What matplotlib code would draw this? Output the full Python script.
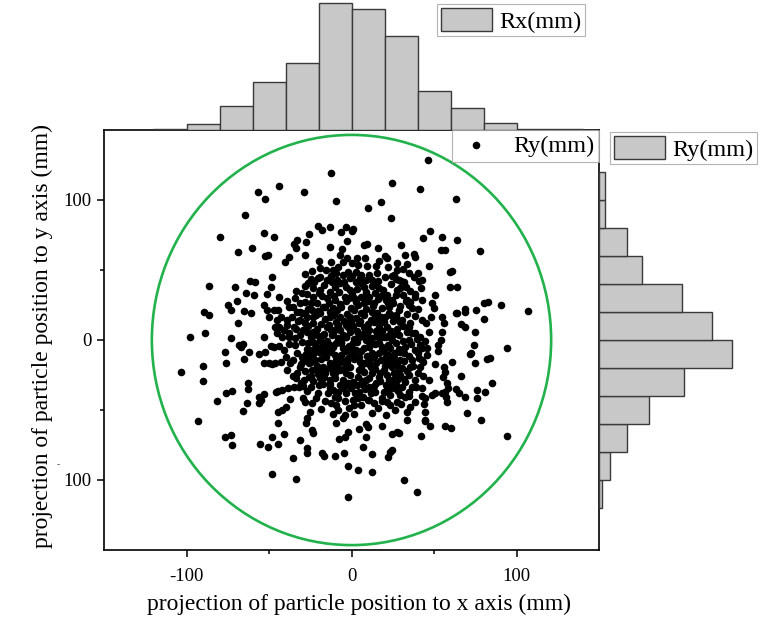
import matplotlib
matplotlib.use("Agg")
import matplotlib.pyplot as plt
from matplotlib.patches import Ellipse
import numpy as np

plt.rcParams['font.family'] = ['Liberation Serif', 'DejaVu Serif']

# particle positions (mm), grouped by region of the beam spot
upper_left = [
    (-12.5, 119), (-44.2, 110), (-56.9, 106), (-52.7, 100.7), (-28.7, 106), (-9.4, 99.3),
    (-64.8, 89), (-79.8, 73.3), (-53, 76.2), (-47, 73.8), (-20.1, 81.7), (-17.7, 78.6),
    (-13.3, 80.5), (-6.2, 77.4), (-3.2, 80.5), (1, 79.3), (-2.6, 71), (-25.9, 75.7),
    (-27.5, 70.2), (-32.8, 71.4), (-34.6, 68.6), (-33.6, 65.5), (-68.7, 62.6), (-60.1, 65.5),
    (-52.2, 60), (-50.5, 60.7), (-37.6, 59.5), (-40.2, 55.7), (-27.9, 60.5), (-13.1, 66.7),
    (-5.8, 65.2), (-7.2, 60.7), (-2.6, 58.8), (-12.5, 55.9), (-18.9, 51.2), (-48.1, 44.8),
    (-24.7, 43.6), (-86.3, 38.3), (-70.9, 38.1), (-61.3, 42.1), (-58.3, 41.2), (-64.2, 33.8),
    (-59.3, 32.4), (-69.1, 28.1), (-74.7, 25), (-73.3, 21.4), (-65.4, 20.7), (-60.9, 19),
    (-68.9, 12.4), (-89.3, 19.8), (-86.3, 17.9), (-88.8, 5), (-97.8, 1.9), (-72.9, 1.2),
    (-53, 1.9), (-51.5, 32.9), (-52.8, 25), (-51.5, 21.4), (-46.8, 21.4), (-49.9, 16.7),
    (-45.2, 14.3), (-43.7, 9.5), (-40.7, 7.1), (-37.6, 4.8), (-33.6, 35), (-31, 20.2),
    (-28, 19), (-32.4, 13.6),
]
upper_right = [
    (46.2, 128.8), (24.7, 112.4), (41.8, 107.9), (63.6, 100.7), (17.7, 98.6), (10, 94),
    (23.9, 87.1), (0.4, 78.1), (47.8, 77.6), (43.2, 72.6), (54.7, 73.8), (64, 71.2),
    (54.4, 64.3), (56.4, 64.3), (77.6, 63.6), (7.8, 67.9), (9.1, 68.6), (16.1, 65.5),
    (30, 67.6), (20.3, 60), (21.3, 58.3), (32.6, 60.7), (38, 61.4), (38.6, 59.5),
    (3.2, 58.3), (9.4, 52.9), (15.1, 52.9), (33.6, 54), (27.6, 50), (24.7, 45.9),
    (40, 47.6), (41.2, 42.4), (59.5, 48.8), (60.7, 49.5), (29.7, 42.1), (59.5, 37.6),
    (63.8, 37.6), (35.6, 35.2), (38.6, 30.9), (40.6, 21.9), (50.1, 23.1), (55.1, 16.7),
    (63.2, 19), (64.2, 19.5), (68.7, 22.1), (68.9, 19.8), (75.5, 21.2), (80, 26.2),
    (82.6, 26.9), (90.6, 24.8), (106.7, 20.7), (80, 15.2), (74.9, 5.9), (66.4, 11.4),
    (68.5, 9.5), (56.1, 11.9), (55.1, 5.9), (45.4, 11.9), (47.2, 5.5), (35.6, 12.4),
    (34.6, 25), (33.6, 28.6),
]
lower_left = [
    (-68.1, -3.6), (-65.6, -3.1), (-67, -5.2), (-76.9, -8.3), (-62, -8.3), (-55.9, -10.2),
    (-52.5, -8.8), (-48.5, -4.3), (-47, -5.2), (-65.4, -13.6), (-76.1, -16.7), (-53, -16.7),
    (-50, -16.7), (-48, -17.4), (-46.6, -16.7), (-90, -18.8), (-103.5, -22.9), (-90, -29.3),
    (-63, -31), (-62.6, -35.2), (-76.3, -37.9), (-72.7, -36.4), (-81.8, -43.3), (-63.6, -44.8),
    (-55.9, -40.5), (-53.3, -38.8), (-54.9, -42.9), (-56.3, -45.2), (-46, -37.1), (-44.4, -36.4),
    (-66, -50.5), (-92.9, -57.9), (-44.4, -51.2), (-44.4, -59.5), (-76.5, -69), (-73, -67.9),
    (-72.4, -75), (-55.5, -74), (-50.6, -76.7), (-48.2, -69), (-44.6, -74.3), (-47.9, -95.7),
]
lower_mid = [
    (-42, -35.7), (-38.6, -34.5), (-35, -33.8), (-32, -33.3), (-28.7, -28.6), (-29.1, -32.9),
    (-27.1, -36.2), (-35.6, -25.5), (-20.1, -37.6), (-37.4, -42.4), (-29.4, -41.7), (-28.4, -44.1),
    (-24.1, -45.2), (-40, -48.1), (-42, -50), (-25.1, -51.2), (-26.7, -55.9), (-27.5, -59.1),
    (-24.1, -64.3), (-23.5, -66.7), (-41, -67.1), (-31.5, -71.4), (-27.1, -77.4), (-26.7, -81),
    (-35.6, -84.5), (-18.1, -81), (-16.7, -82.9), (-10.1, -82.9), (-4.8, -80.5), (-2.2, -90),
    (3.8, -92.9), (12.7, -94), (7.2, -76.7), (12.3, -81.4), (22.1, -83.3), (23.1, -79.8),
    (24.7, -78.6), (31.6, -100), (39.6, -108.6), (-2, -112.1), (-33.6, -99.5), (-9.1, -59.5),
    (-5.2, -55.9), (-4.2, -53.6), (-7.5, -70.9), (-4.2, -69.5), (-2.2, -65.5), (4.4, -63.8),
    (8.8, -60), (9.7, -61.9), (8.8, -69), (18.7, -61.4), (24.7, -67.1), (27.6, -65.5),
    (28.7, -66.7), (42.2, -68.6), (44.6, -57.1), (33.6, -57.1), (1.8, -52.9),
]
lower_right = [
    (94.3, -5.9), (82.4, -13.8), (83.8, -12.6), (74.9, -16.2), (74.1, -3.6), (71.6, -10),
    (72.7, -9.1), (60.9, -16), (66.5, -25.5), (84.9, -30.5), (81.2, -37.1), (76.1, -35.7),
    (76.1, -41.2), (68.5, -40.5), (63.1, -35), (64.9, -37.6), (57.9, -31), (58.5, -34.5),
    (56.5, -36.9), (55.1, -38.1), (57.5, -40.5), (57.9, -44.1), (55.5, -26.2), (56.5, -22.6),
    (55.9, -19), (50.9, -17.4), (42.6, -14.3), (43.6, -15.9), (48.5, -39.3), (50.9, -37.6),
    (42.6, -34.5), (42.6, -39.8), (44.2, -45.7), (70, -52.4), (78.5, -57.1), (44.6, -57.6),
    (47.6, -61.7), (56.9, -61.7), (60.1, -62.6), (94.3, -68.8), (52.5, -3.6), (52.5, -7.9),
    (54.5, 0), (44.6, -0.5), (45.6, -5.9), (41.6, 2.4), (41.6, -3.6), (42.6, -5.9), (41.2, -13.1),
]
core_upper = [
    (-5.2, 56), (-15.5, 50), (-11.2, 50), (-9.1, 48.1), (-15.1, 42.9), (-12.1, 41.7),
    (-10.1, 38.1), (-7.2, 40.5), (-5.2, 46.4), (-2.2, 48.8), (-1.2, 44.1), (3.8, 53.6),
    (2.8, 48.8), (10.7, 46.4), (12.7, 42.9), (14.7, 39.3), (16.7, 36.9), (15.3, 47.6),
    (5.8, 40.5), (7.8, 38.1), (8.8, 34.5), (27.6, 54.8), (25.7, 46.4), (28.7, 42.9),
    (34.6, 47.6), (37.6, 45.2), (42.6, 42.9), (42.2, 36.9), (27.6, 35.7), (26.7, 32.1),
    (24.7, 28.6), (35.6, 27.4), (42.6, 28.6), (42.6, 14.3), (34.6, 9.5), (36.6, 4.8),
    (30.6, 14.3), (26.7, 16.7), (22.7, 19),
    (-23.1, 30.9), (-19.1, 35.7), (-21.1, 26.2), (-24.1, 21.4), (-27.1, 16.7), (-31.1, 14.3),
    (-29.1, 7.1), (-23.1, 11.9), (-19.1, 19), (-17.1, 23.8), (-15.1, 29.7), (-13.1, 34.5),
    (-10.2, 28.6), (-11.2, 22.6), (-13.1, 16.7), (-15.1, 9.5), (-17.1, 3.6), (-11.2, 4.8),
    (-8.2, 10.7), (-7.2, 16.7), (-6.2, 23.8), (-4.2, 31), (-1.2, 35.7), (1.8, 29.7),
    (-0.2, 22.6), (-1.2, 16.7), (-2.2, 9.5), (-3.2, 2.4), (3.8, 4.8), (4.8, 11.9),
    (5.8, 19), (7.7, 26.2), (10.7, 30.9), (13.7, 26.2), (12.7, 20.2), (11.7, 14.3),
    (10.7, 7.1), (16.7, 9.5), (17.7, 16.7), (18.7, 22.6), (20.7, 28.6), (22.7, 23.8),
    (23.7, 17.8), (22.7, 3.6), (19.7, 2.4), (-31.1, 26.2), (-33.1, 20.2), (-35.1, 9.5),
    (-39, 14.3), (-41, 7.1), (-26.1, 40.5), (-19.1, 45.2), (5.8, 46.4), (2.8, 41.7),
    (-38, 23.8), (-36, 16.7), (-43, 16.7), (-42, 2.4),
]
core_lower = [
    (-44, -4.3), (-41, -7.1), (-40, -11.9), (-43, -15.5), (-34, -3.6), (-34, 1.2),
    (-31, 3.6), (-27.1, 5.9), (-30.1, -11.9), (-29.1, -14.3), (-25.1, -10.8), (-24.1, -7.2),
    (-21.1, -4.8), (-19.1, 0), (-23.1, -1.2), (-17.2, -7.2), (-15.2, -11.9), (-13.2, -3.6),
    (-9.2, -2.4), (-5.2, -6), (-6.2, -10.8), (-9.2, -14.3), (-13.2, -16.7), (-17.2, -19.1),
    (-21.1, -21.5), (-24.1, -21.5), (-16.2, -23.9), (-19.1, -27.4), (-13.2, -28.6), (-11.2, -23.9),
    (-9.2, -20.3), (-4.2, -19.1), (-3.2, -23.9), (-5.2, -28.6), (-7.2, -32.2), (-8.2, -36.9),
    (-13.2, -34.6), (-14.2, -38.1), (-10.2, -40.5), (-9.2, -46.5), (-8.2, -50), (-3.2, -38.1),
    (-0.2, -34.6), (0.8, -29.8), (3.7, -26.2), (4.7, -21.5), (6.7, -16.7), (4.7, -11.9),
    (2.7, -7.2), (0.8, -2.4), (4.7, 2.4), (8.7, 0), (10.7, -4.8), (12.7, -9.6),
    (10.7, -14.3), (11.7, -19.1), (12.7, -23.9), (8.7, -28.6), (6.7, -32.2), (4.7, -36.9),
    (3.7, -41.7), (1.7, -46.5), (5.7, -46.5), (9.7, -42.9), (11.7, -38.1), (10.7, -33.4),
    (14.7, -31), (16.7, -26.2), (19.7, -21.5), (21.6, -16.7), (20.7, -11.9), (18.7, -7.2),
    (16.7, -2.4), (20.7, 2.4), (24.6, 0), (23.6, -6), (26.6, -9.6), (25.6, -15.5),
    (24.6, -19.1), (25.6, -23.9), (22.6, -28.6), (20.7, -32.2), (19.7, -36.9), (18.7, -41.7),
    (21.6, -44.1), (23.6, -39.3), (25.6, -34.6), (27.6, -28.6), (29.6, -25), (30.6, -20.3),
    (29.6, -14.3), (31.6, -9.6), (32.6, -4.8), (34.6, 0), (38.6, -7.2), (36.6, -14.3),
    (35.6, -19.1), (34.6, -25), (32.6, -29.8), (30.6, -33.4), (29.6, -39.3), (27.6, -44.1),
    (26.6, -50), (32.6, -40.5), (34.6, -36.9), (36.6, -33.4), (38.6, -28.6), (40.6, -23.9),
    (41.6, -19.1), (40.6, -9.6), (44.6, -41.7), (38.6, -44.1), (35.6, -47.7), (33.6, -51.2),
    (44.6, -51.2), (-45, 4.7), (-38, 2.3), (-37, -16.7), (-39, -21.5), (-33, -23.9),
    (-31, -19.1), (-26, -26.2), (-26, -16.7), (-22, -14.3), (-21, 3.5), (-12, 3.5),
    (-3.2, 2.4), (-2.2, -13.1), (14.7, -16.7), (15.7, 3.5), (28.6, 3.5), (38.6, 4.7),
]
core_dense = [
    (-20.3, 44.1), (-8.7, 43.2), (0.4, 45.6), (8.9, 42.8), (20.6, 44.9), (31.8, 41.5), (-28.4, 38.7),
    (-23.6, 37.2), (-16.4, 39.4), (-3.1, 37.8), (3.5, 36.1), (12.2, 38.9), (19.3, 35.4), (23.9, 40.2),
    (33.1, 37.5), (-30.2, 33.6), (-26.8, 32.8), (-17.9, 31.1), (-7.3, 34.2), (0.2, 32.6), (5.6, 30.4),
    (14.1, 33.7), (21.8, 32.3), (31.2, 31.9), (38.5, 33.1), (-34.5, 30.2), (-28.1, 27.4), (-13.7, 26.1),
    (-3.6, 27.9), (4.1, 24.8), (9.8, 27.6), (16.3, 29.1), (25.4, 26.7), (29.6, 24.3), (36.9, 22.5),
    (-39.2, 27.8), (-26.2, 22.3), (-20.4, 20.9), (-8.9, 21.6), (1.5, 21.3), (8.6, 22.4), (15.2, 19.6),
    (20.5, 16.1), (28.7, 21.1), (33.5, 18.4), (-35.3, 23.5), (-44.8, 21.2), (-23.4, 16.6), (-16.1, 14.8),
    (-10.5, 18.2), (-4.6, 13.7), (2.9, 15.9), (7.4, 17.8), (13.8, 12.6), (25.2, 13.9), (31.4, 10.2),
    (38.6, 16.8), (-29.7, 19.3), (-38.9, 10.4), (-26.4, 10.1), (-20.8, 7.9), (-13.6, 10.7), (-6.7, 7.2),
    (0.9, 9.8), (7.3, 9.2), (14.6, 6.1), (19.4, 12.5), (27.8, 7.6), (33.7, 5.9), (-33.6, 8.1),
    (-46.2, 9.6), (-24.6, 2.2), (-16.8, 4.4), (-8.1, 1.3), (-1.1, 5.7), (6.2, 3.1), (12.3, 1.5),
    (18.2, 6.4), (25.9, 4.2), (31.1, -0.5), (-29.8, -1.3), (-37.8, -2.9), (39.4, 0.9), (-21.9, -3.2),
    (-14.9, -0.6), (-11.2, -5.3), (-1.8, -4.2), (3.4, -1.5), (7.8, -5.6), (14.3, -2.7), (22.4, -3.8),
    (28.8, -6.1), (36.2, -2.6), (-26.9, -6.4), (-33.1, -9.3), (-27.6, -10.2), (-19.8, -8.4), (-12.3, -8.9),
    (-7.6, -12.5), (-0.4, -9.8), (5.9, -8.1), (9.1, -11.6), (16.4, -9.2), (22.7, -10.7), (29.5, -8.6),
    (34.9, -11.3), (-35.2, -14.6), (-24.3, -15.7), (-18.7, -13.4), (-10.6, -17.2), (-5.3, -15.1), (1.8, -13.9),
    (8.3, -16.5), (17.9, -14.2), (23.1, -13.6), (27.4, -17.8), (37.2, -18.3), (-30.4, -17.5), (45.8, -10.9),
    (-28.1, -22.4), (-20.3, -24.6), (-13.9, -20.1), (-6.8, -21.7), (-0.9, -19.3), (7.6, -23.2), (14.2, -20.6),
    (21.3, -25.1), (28.5, -21.4), (33.6, -22.3), (-33.8, -26.9), (43.2, -25.6), (-23.1, -29.3), (-16.7, -26.3),
    (-9.7, -27.4), (-2.1, -30.6), (3.2, -31.8), (10.5, -26.9), (17.3, -29.4), (24.5, -31.7), (31.8, -27.6),
    (-30.4, -30.8), (38.9, -33.4), (47.2, -28.9), (-24.8, -33.4), (-17.2, -31.2), (-11.5, -35.8), (-5.4, -34.2),
    (1.9, -37.8), (8.4, -35.3), (14.4, -36.9), (22.9, -34.9), (28.2, -36.4), (35.1, -40.1), (-21.6, -41.3),
    (-15.8, -43.9), (-12.6, -44.7), (-4.1, -43.8), (-1.3, -48.7), (6.8, -40.9), (13.6, -45.1), (16.1, -48.9),
    (23.5, -46.3), (30.1, -45.6), (-18.7, -49.4), (-11.2, -52.6), (12.4, -51.8), (20.8, -53.7), (-19.8, 56.3),
    (-8.3, 52.1), (0.6, 55.1), (8.1, 58.6), (16.5, 56.7), (22.3, 51.8), (-23.7, 49.4), (31.5, 50.9),
    (-27.9, 46.9), (46.8, 52.6), (50.7, 32.4), (48.6, 26.1), (47.9, 16.4), (-44.1, 30.8), (-48.6, 38.2),
]
core_fill = [
    (-22.5, 41.2), (-12.4, 45.8), (-4.6, 41.1), (5.1, 44.3), (15.8, 42.1), (26.7, 43.5),
    (-19.5, 33.9), (-10.8, 31.6), (-1.4, 29.9), (8.3, 31.2), (17.9, 31.4), (29.1, 36.8),
    (-24.7, 26.5), (-16.2, 23.4), (-7.1, 25.9), (2.6, 26.8), (12.9, 24.1), (22.1, 26.3), (33.2, 27.8),
    (-21.4, 17.8), (-13.2, 19.7), (-2.8, 18.9), (5.2, 13.8), (16.6, 14.2), (26.9, 17.6),
    (-28.3, 12.2), (-18.7, 11.4), (-9.6, 13.1), (-3.4, 10.6), (10.3, 11.3), (21.6, 9.4), (29.4, 12.9),
    (-23.2, 5.9), (-12.7, 6.8), (-5.1, 3.4), (3.6, 6.7), (9.6, 4.2), (16.9, 1.2), (23.8, 6.2),
    (-26.1, -2.1), (-17.3, -2.9), (-6.4, -1.7), (1.4, 0.8), (10.4, -1.1), (18.4, -4.9), (27.1, -1.9),
    (-23.4, -9.8), (-15.9, -10.1), (-3.9, -7.8), (2.3, -11.9), (13.8, -12.3), (19.9, -8.1), (25.7, -12.8),
    (-27.2, -15.1), (-20.9, -18.4), (-8.2, -16.9), (-2.7, -15.9), (5.1, -15.4), (11.4, -17.8), (20.6, -18.9),
    (31.9, -14.9), (-24.6, -25.8), (-17.4, -22.6), (-9.8, -23.6), (-1.2, -24.7), (5.8, -20.3), (17.1, -23.3),
    (25.8, -27.6), (-19.6, -31.8), (-13.1, -31.3), (-3.8, -32.8), (6.3, -29.2), (13.4, -32.9), (20.7, -36.1),
    (27.1, -31.9), (-8.3, -41.1), (1.2, -42.9), (10.6, -43.2), (18.2, -43.9), (-6.1, -2.3), (0.5, -6.1),
    (-9.1, 7.9), (8.1, 6.4), (-0.6, 13.8), (-14.6, -6.6), (14.3, 17.8), (-10.3, -10.9),
]

# histogram counts, 20 mm bins
rx_edges = [-120, -100, -80, -60, -40, -20, 0, 20, 40, 60, 80, 100, 120, 140]
rx_counts = [1, 8, 30, 60, 83, 158, 151, 117, 49, 27, 9, 1, 1]
ry_edges = [-120, -100, -80, -60, -40, -20, 0, 20, 40, 60, 80, 100, 120]
ry_counts = [4, 13, 33, 59, 100, 156, 133, 98, 51, 33, 7, 7]

groups = [upper_left, upper_right, lower_left, lower_mid, lower_right,
          core_upper, core_lower, core_dense, core_fill]
pts = np.array([p for g in groups for p in g])

fig = plt.figure(figsize=(7.71, 6.18), dpi=100)
W, H = 771.0, 618.0
ax = fig.add_axes([104 / W, 1 - 550 / H, 495 / W, 420 / H])
ax_top = fig.add_axes([104 / W, 1 - 130 / H, 495 / W, 130 / H])
ax_right = fig.add_axes([599 / W, 1 - 550 / H, 172 / W, 420 / H])

bar_face = '#c8c8c8'
bar_edge = '#3a3a3a'

ax.scatter(pts[:, 0], pts[:, 1], s=30, c='black', linewidths=0, label='Ry(mm)', zorder=3)
ax.add_patch(Ellipse((0, 0), 242, 293, fill=False, ec='#22b24c', lw=1.9, zorder=2))
ax.set_xlim(-150, 150)
ax.set_ylim(-150, 150)
ax.set_xticks([-100, 0, 100])
ax.set_xticklabels(['-100', '0', '100'])
ax.set_xticks([-50, 50], minor=True)
ax.set_yticks([-100, 0, 100])
ax.set_yticklabels(['100', '0', '100'])
ax.set_yticks([-50, 50], minor=True)
ax.tick_params(which='both', direction='out', width=1.1, labelsize=13.5, top=False, right=False)
ax.tick_params(which='major', length=5)
ax.tick_params(which='minor', length=3)
ax.tick_params(axis='x', pad=8)
ax.tick_params(axis='y', pad=4)
for s in ax.spines.values():
    s.set_linewidth(1.2)
ax.set_xlabel('projection of particle position to x axis (mm)', fontsize=17)
ax.set_ylabel('projection of particle position to y axis (mm)', fontsize=17)
ax.xaxis.set_label_coords(0.515, -0.105)
ax.yaxis.set_label_coords(-0.104, 0.51)
fig.text(58 / W, 1 - 465 / H, '-', fontsize=7, color='#555555', ha='center', va='center')

leg = ax.legend(loc='upper right', bbox_to_anchor=(1.0, 1.0), borderaxespad=0, fontsize=17.5,
                frameon=True, fancybox=False, handletextpad=0.7, borderpad=0.2,
                markerscale=1.0, handlelength=1.6)
leg.get_frame().set_edgecolor('#a0a0a0')
leg.get_frame().set_linewidth(0.8)

# top histogram of Rx
ax_top.hist(rx_edges[:-1], bins=rx_edges, weights=rx_counts, color=bar_face,
            edgecolor=bar_edge, linewidth=1.0, label='Rx(mm)')
ax_top.set_xlim(-150, 150)
ax_top.set_ylim(0, 162)
ax_top.axis('off')
lt = ax_top.legend(loc='upper right', bbox_to_anchor=(585 / W, 1 - 4 / H),
                   bbox_transform=fig.transFigure, borderaxespad=0, fontsize=17.5,
                   frameon=True, fancybox=False, handlelength=2.1, handleheight=1.1,
                   handletextpad=0.3, borderpad=0.15)
lt.get_frame().set_edgecolor('#a0a0a0')
lt.get_frame().set_linewidth(0.8)

# right histogram of Ry
ax_right.hist(ry_edges[:-1], bins=ry_edges, weights=ry_counts, orientation='horizontal',
              color=bar_face, edgecolor=bar_edge, linewidth=1.0, label='Ry(mm)')
ax_right.set_ylim(-150, 150)
ax_right.set_xlim(0, 202)
ax_right.axis('off')
lr = ax_right.legend(loc='upper right', bbox_to_anchor=(757 / W, 1 - 132 / H),
                     bbox_transform=fig.transFigure, borderaxespad=0, fontsize=17.5,
                     frameon=True, fancybox=False, handlelength=2.1, handleheight=1.1,
                     handletextpad=0.3, borderpad=0.15)
lr.get_frame().set_edgecolor('#a0a0a0')
lr.get_frame().set_linewidth(0.8)

fig.savefig('out.png', dpi=100)
